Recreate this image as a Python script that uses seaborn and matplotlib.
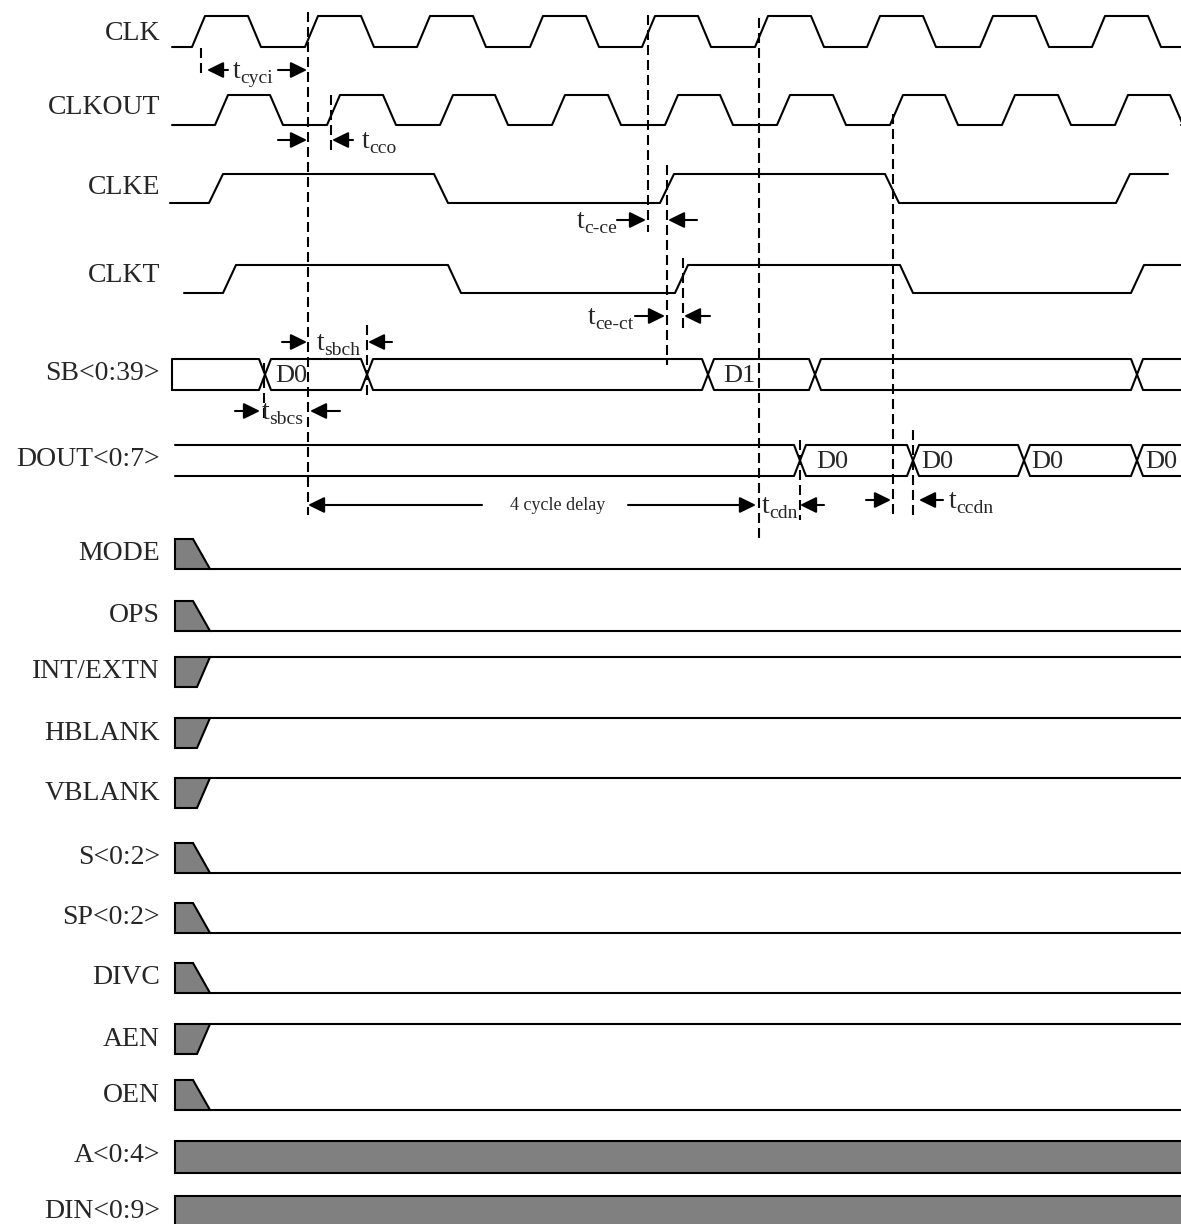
import matplotlib
matplotlib.use("Agg")
import matplotlib.pyplot as plt
import seaborn as sns

# ---- data: edge times (same time units as the drawing's x axis) ----
clk_edges = [192, 248, 305, 361, 417, 473, 530, 586, 642, 698, 755, 811, 867, 923, 980, 1036, 1092, 1148]
clkout_edges = [215, 270, 327, 383, 440, 495, 552, 608, 665, 720, 777, 833, 890, 945, 1002, 1058, 1115, 1170]
clke_edges = [209, 434, 660, 885, 1116]
clkt_edges = [223, 448, 675, 900, 1131]

sb_cross = [265, 367, 708, 815, 1137]
sb_words = ["D0", "D1"]
sb_word_t = [275, 723]
dout_cross = [800, 913, 1024, 1137]
dout_words = ["D0", "D0", "D0", "D0"]
dout_word_t = [816, 921, 1031, 1145]

top_names = ["CLK", "CLKOUT", "CLKE", "CLKT", "SB<0:39>", "DOUT<0:7>"]

ctrl_names = ["MODE", "OPS", "INT/EXTN", "HBLANK", "VBLANK", "S<0:2>", "SP<0:2>",
              "DIVC", "AEN", "OEN", "A<0:4>", "DIN<0:9>"]
ctrl_kind = ["fall", "fall", "rise", "rise", "rise", "fall", "fall",
             "fall", "rise", "fall", "bus", "bus"]

# timing markers (x, y0, y1)
guides = [(201, 48, 78), (308, 12, 515), (331, 95, 155), (648, 15, 232),
          (667, 165, 365), (683, 258, 330), (759, 18, 538), (893, 114, 515),
          (264, 363, 422), (367, 325, 395), (800, 440, 520), (913, 430, 520)]

# dimension arrows: (tail, head, y)
arrows = [(228, 207, 70), (278, 307, 70),
          (278, 307, 140), (353, 332, 140),
          (617, 646, 220), (697, 668, 220),
          (635, 665, 316), (710, 684, 316),
          (282, 307, 342), (392, 368, 342),
          (235, 260, 411), (340, 310, 411),
          (482, 308, 505), (628, 756, 505),
          (824, 800, 505),
          (866, 891, 500), (943, 919, 500)]

# timing parameter names: (x, y, sub)
params = [(233, 70, "cyci"), (362, 140, "cco"), (577, 220, "c-ce"),
          (588, 316, "ce-ct"), (317, 342, "sbch"), (262, 411, "sbcs"),
          (762, 505, "cdn"), (949, 500, "ccdn")]

sns.set_theme(style="white")
plt.rcParams["font.family"] = ["Liberation Serif", "DejaVu Serif"]

W, H = 1181, 1224
fig = plt.figure(figsize=(W / 100, H / 100), dpi=100)
ax = fig.add_axes([0, 0, 1, 1])
ax.set_xlim(0, W)
ax.set_ylim(H, 0)
ax.axis("off")

LW = 1.5
FS = 20


def wave(start, end, edges, lo, hi, slew):
    xs, ys = [start], [lo]
    level = lo
    for e in edges:
        new = hi if level == lo else lo
        xs += [e, e + slew]
        ys += [level, new]
        level = new
    xs.append(end)
    ys.append(level)
    sns.lineplot(x=xs, y=ys, sort=False, estimator=None, color="black", lw=LW, ax=ax)


def bus(start, end, crosses, top, bot, h=6, left_edge=False):
    for first in (top, bot):
        xs, ys = [start], [first]
        if left_edge and first == top:
            xs, ys = [start, start], [bot, top]
        cur = first
        for c in crosses:
            other = bot if cur == top else top
            xs += [c - h, c + h]
            ys += [cur, other]
            cur = other
        xs.append(end)
        ys.append(cur)
        sns.lineplot(x=xs, y=ys, sort=False, estimator=None, color="black", lw=LW, ax=ax)


wave(172, W, clk_edges, 47, 16, 13)
wave(172, W, clkout_edges, 125, 95, 13)
wave(170, 1168, clke_edges, 203, 174, 14)
wave(184, W, clkt_edges, 293, 265, 13)
bus(172, W, sb_cross, 359, 390, left_edge=True)
bus(175, W, dout_cross, 445, 476)

for t, w in zip(sb_word_t, sb_words):
    ax.text(t, 376, w, fontsize=19, ha="left", va="center")
for t, w in zip(dout_word_t, dout_words):
    ax.text(t, 462, w, fontsize=19, ha="left", va="center")

top_y = [33, 108, 188, 276, 374, 459]
for name, y in zip(top_names, top_y):
    ax.text(160, y, name, fontsize=FS, ha="right", va="center")

# control rows
ctrl_top = [539, 601, 657, 718, 778, 843, 903, 963, 1024, 1080, 1141, 1196]
rh = 30
for name, kind, top in zip(ctrl_names, ctrl_kind, ctrl_top):
    bot = top + rh
    x0 = 175
    if kind == "fall":
        ax.fill([x0, 193, 210, x0], [top, top, bot, bot], facecolor="#808080",
                edgecolor="black", lw=LW, joinstyle="miter")
        sns.lineplot(x=[210, W], y=[bot, bot], color="black", lw=LW, ax=ax)
    elif kind == "rise":
        ax.fill([x0, 210, 197, x0], [top, top, bot, bot], facecolor="#808080",
                edgecolor="black", lw=LW, joinstyle="miter")
        sns.lineplot(x=[210, W], y=[top, top], color="black", lw=LW, ax=ax)
    else:
        ax.fill([x0, W + 5, W + 5, x0], [top, top, bot + 2, bot + 2], facecolor="#808080",
                edgecolor="black", lw=LW, joinstyle="miter")
    ax.text(160, top + 15, name, fontsize=FS, ha="right", va="center")

for x, y0, y1 in guides:
    ax.plot([x, x], [y0, y1], color="black", lw=1.5, linestyle=(0, (4.8, 2.4)))

for tail, head, y in arrows:
    ax.annotate("", xy=(head, y), xytext=(tail, y),
                arrowprops=dict(arrowstyle="-|>,head_length=0.55,head_width=0.27",
                                mutation_scale=18, color="black", lw=LW,
                                shrinkA=0, shrinkB=0))

for x, y, sub in params:
    ax.text(x, y + 8, "t", fontsize=FS, ha="left", va="baseline")
    ax.text(x + 7.5, y + 13, sub, fontsize=14, ha="left", va="baseline")

ax.text(558, 505, "4 cycle delay", fontsize=13, ha="center", va="center")

fig.savefig("out.png", dpi=100)
